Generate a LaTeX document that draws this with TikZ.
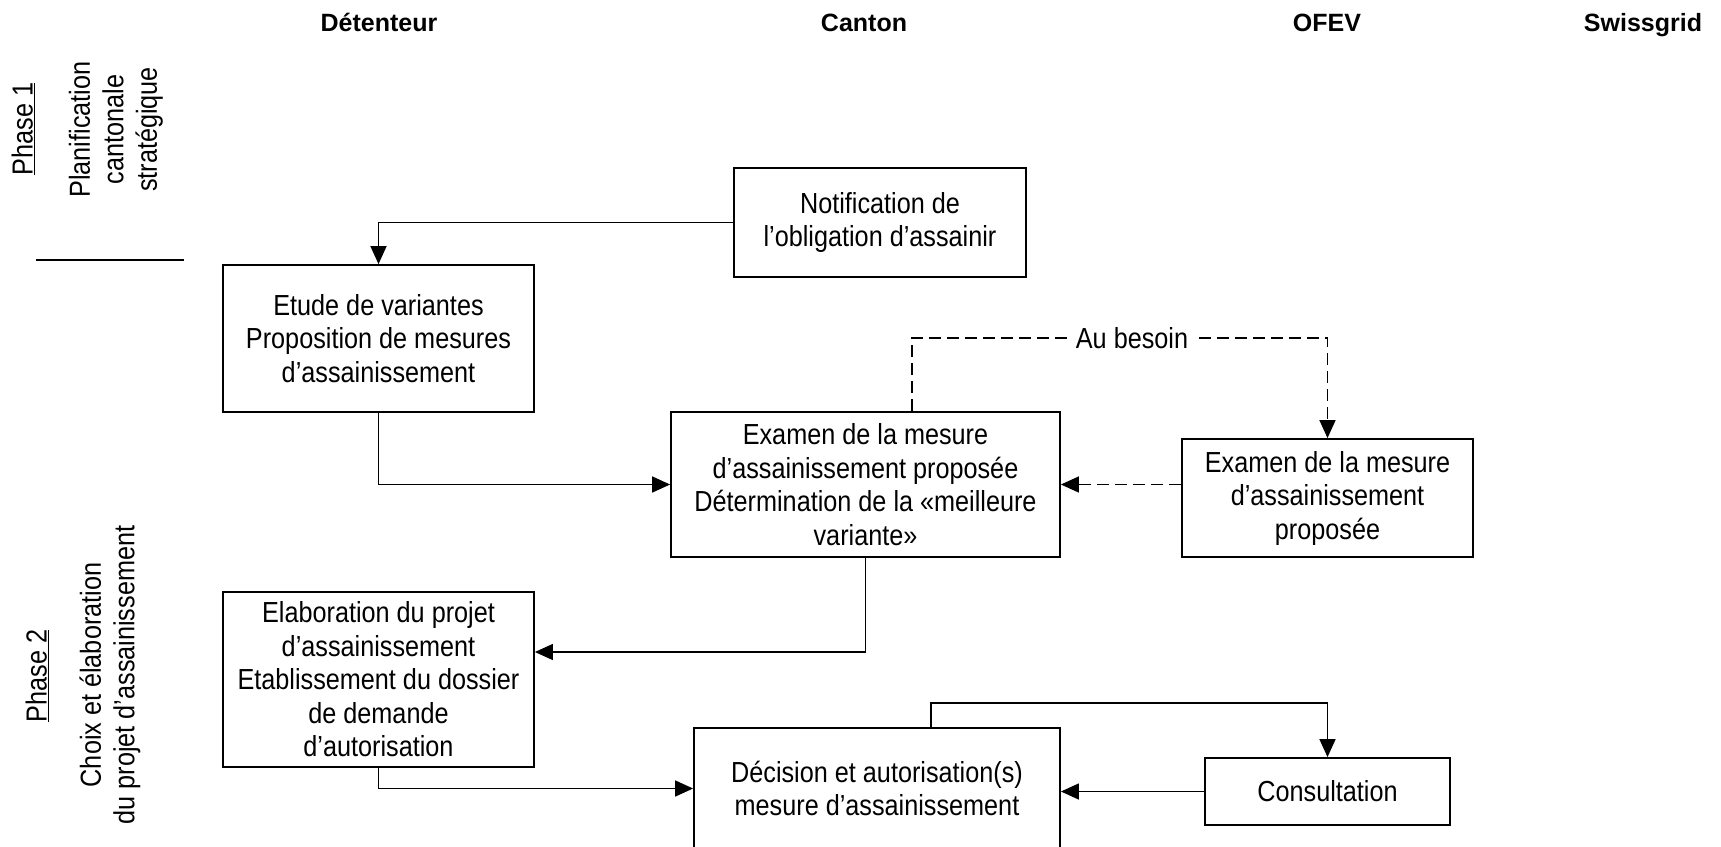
\documentclass[tikz,border=0pt]{standalone}
\usepackage{fontspec}
\setmainfont{Liberation Sans}[FakeStretch=0.87]
\newfontfamily\hdrfont{Liberation Sans}
\usetikzlibrary{arrows.meta}
\tikzset{
  txt/.style={font=\fontsize{29}{33.5}\selectfont},
  box/.style={draw=black, line width=1.8pt, align=center, inner sep=0pt, txt},
  hdr/.style={font=\hdrfont\bfseries\fontsize{25}{30}\selectfont, anchor=base},
  conn/.style={draw=black, line width=1.5pt},
  arr/.style={conn, -{Triangle[length=18pt,width=16pt]}},
  dsh/.style={dash pattern=on 12pt off 6pt},
  side/.style={txt, rotate=90, align=center},
}
\begin{document}
\begin{tikzpicture}[x=1pt,y=-1pt]
\useasboundingbox (0,0) rectangle (1721,846);
% headers
\node[hdr] (hdet) at (379,31) {Détenteur};
\node[hdr] (hcan) at (864,31) {Canton};
\node[hdr] (hofe) at (1327,31) {OFEV};
\node[hdr] (hswi) at (1643,31) {Swissgrid};
% phase labels
\node[side, anchor=base] (ph1) at (32.5,129) {\underline{Phase 1}};
\node[side] (ph1t) at (116,129.5) {Planification\\cantonale\\stratégique};
\draw[line width=1.5pt] (36,260) -- (184,260);
\node[side, anchor=base] (ph2) at (46.5,676) {\underline{Phase 2}};
\node[side] (ph2t) at (110,675) {Choix et élaboration\\du projet d’assainissement};
% boxes
\node[box, minimum width=292pt, minimum height=109pt] (notif) at (880,222.5) {Notification de\\l’obligation d’assainir};
\node[box, minimum width=311pt, minimum height=147pt] (etude) at (378.5,338.5) {Etude de variantes\\Proposition de mesures\\d’assainissement};
\node[box, minimum width=389pt, minimum height=145pt] (examC) at (865.5,484.5) {Examen de la mesure\\d’assainissement proposée\\Détermination de la «meilleure\\variante»};
\node[box, minimum width=291pt, minimum height=118pt] (examO) at (1327.5,498) {Examen de la mesure\\d’assainissement\\proposée};
\node[box, minimum width=311pt, minimum height=175pt] (elab) at (378.5,679.5) {Elaboration du projet\\d’assainissement\\Etablissement du dossier\\de demande\\d’autorisation};
\node[box, minimum width=366pt, minimum height=121pt] (decis) at (877,788.5) {Décision et autorisation(s)\\mesure d’assainissement};
\node[box, minimum width=245pt, minimum height=67pt] (consult) at (1327.5,791.5) {Consultation};
% connectors
\draw[arr] (notif.west) -| (etude.north);
\draw[arr] (etude.south) |- (examC.west);
\coordinate (aub) at (1132,338);
\draw[arr, dsh] ([xshift=46.5pt]examC.north) |- (aub) -| (examO.north);
\node[txt, fill=white, inner xsep=6pt, inner ysep=1pt] (aubl) at (aub) {Au besoin};
\draw[arr, dsh] (examO.west |- examC.east) -- (examC.east);
\draw[arr] (examC.south) |- ([yshift=27.5pt]elab.east);
\draw[arr] (elab.south) |- (decis.west);
\draw[arr] ([xshift=54pt]decis.north) -- ++(0,-24) -| (consult.north);
\draw[arr] (consult.west) -- (consult.west -| decis.east);
\end{tikzpicture}
\end{document}
